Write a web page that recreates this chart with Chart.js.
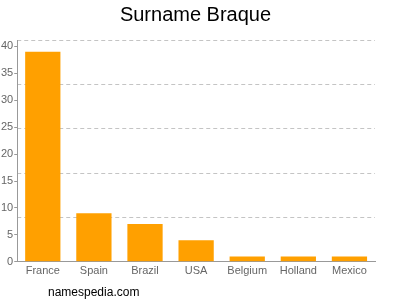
<!DOCTYPE html>
<html>
<head>
<meta charset="utf-8">
<script src="https://cdn.jsdelivr.net/npm/chart.js@4"></script>
<style>
  html, body { margin: 0; padding: 0; background: #fff; }
  #wrap { position: relative; width: 400px; height: 300px; }
  #title {
    position: absolute; left: 0; width: 391px; top: 3px; text-align: center;
    font: 20px "Liberation Sans", Arial, sans-serif; line-height: 22px; color: #000;
  }
  #footer {
    position: absolute; left: 48px; top: 284px;
    font: 12px "Liberation Sans", Arial, sans-serif; line-height: 16px; color: #000;
  }
</style>
</head>
<body>
<div id="wrap">
  <canvas id="nameChart" width="400" height="300"></canvas>
  <div id="title">Surname Braque</div>
  <div id="footer">namespedia.com</div>
</div>
<script>
// Data
const countries = ["France", "Spain", "Brazil", "USA", "Belgium", "Holland", "Mexico"];
const counts = [39, 9, 7, 4, 1, 1, 1];
const yTicks = [0, 5, 10, 15, 20, 25, 30, 35, 40];

const font = "'Liberation Sans', Arial, sans-serif";

function initChart() {
  const canvas = document.getElementById("nameChart");
  return new Chart(canvas.getContext("2d"), {
    type: "bar",
    data: {
      labels: countries,
      datasets: [
        {
          data: counts,
          backgroundColor: "#FFA000",
          borderWidth: 0,
          barPercentage: 0.69,
          categoryPercentage: 1,
        },
      ],
    },
    options: {
      responsive: false,
      animation: false,
      layout: { padding: { left: 0, right: 25, top: 40, bottom: 19 } },
      plugins: {
        legend: { display: false },
        tooltip: { enabled: false },
      },
      scales: {
        x: {
          grid: { display: false, drawTicks: false },
          border: { color: "#999" },
          ticks: { color: "#666", font: { family: font, size: 11 }, padding: 3 },
        },
        y: {
          min: 0,
          max: 41.2,
          afterBuildTicks: (axis) => {
            axis.ticks = yTicks.map((v) => ({ value: v }));
          },
          grid: { drawOnChartArea: false, tickLength: 3, color: "#999" },
          border: { color: "#999" },
          ticks: { color: "#666", font: { family: font, size: 11 }, padding: 1 },
        },
        // dashed gridlines, evenly spaced over the plot like the original
        g: {
          position: "right",
          min: 0,
          max: 5,
          ticks: { display: false, stepSize: 1 },
          border: { display: false, dash: [4, 3] },
          grid: {
            drawTicks: false,
            color: (ctx) => (ctx.tick && ctx.tick.value === 0 ? "rgba(0,0,0,0)" : "#c4c4c4"),
          },
        },
      },
    },
  });
}

document.addEventListener("DOMContentLoaded", initChart);
</script>
</body>
</html>
